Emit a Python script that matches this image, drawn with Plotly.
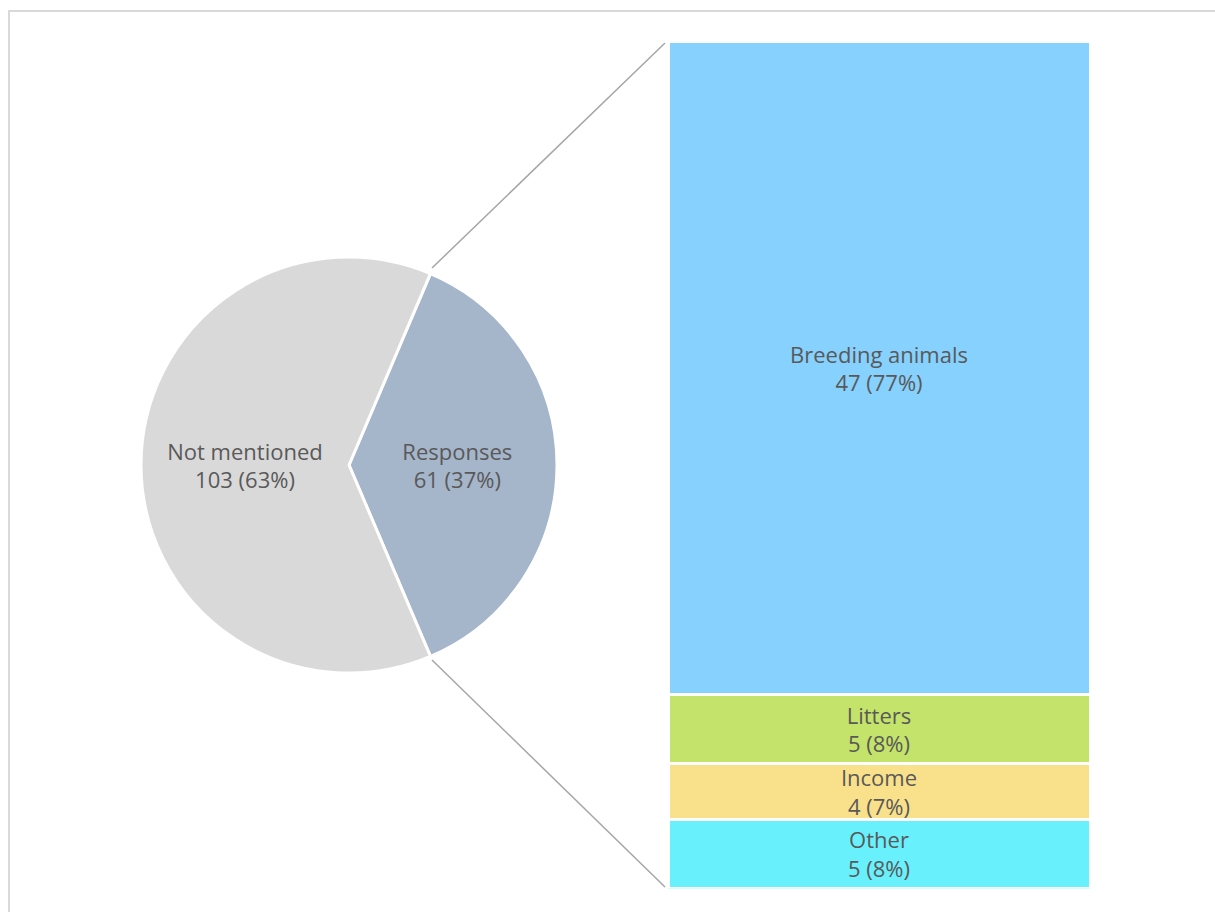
import plotly.graph_objects as go

# ---- data ----
pie_labels = ["Responses", "Not mentioned"]
pie_values = [61, 103]
pie_colors = ["#a5b5ca", "#d9d9d9"]

bar_labels = ["Other", "Income", "Litters", "Breeding animals"]   # bottom -> top
bar_values = [5, 4, 5, 47]
bar_colors = ["#68f1fd", "#f9e18b", "#c4e36a", "#86d1fe"]

W, H = 1215, 912
FONT = dict(family="Open Sans, Noto Sans, sans-serif", size=22, color="#595959")

def px(x):
    return x / W

def py(y):
    return 1 - y / H

total_resp = sum(bar_values)
fig = go.Figure()

# pie
cx, cy, r = 349, 465, 208
rotation = 90 - 360 * pie_values[0] / sum(pie_values) / 2
fig.add_trace(go.Pie(
    labels=pie_labels, values=pie_values, sort=False, direction="clockwise",
    rotation=rotation,
    marker=dict(colors=pie_colors, line=dict(color="white", width=3)),
    texttemplate="%{label}<br>%{value} (%{percent:.0%})",
    textposition="inside", insidetextorientation="horizontal",
    textfont=FONT, showlegend=False, hoverinfo="skip",
    domain=dict(x=[px(cx - r), px(cx + r)], y=[py(cy + r), py(cy - r)]),
))

# stacked bar
for lab, val, col in zip(bar_labels, bar_values, bar_colors):
    pct = round(100 * val / total_resp)
    fig.add_trace(go.Bar(
        x=["Responses"], y=[val], name=lab,
        marker=dict(color=col, line=dict(color="white", width=3)),
        text=[f"{lab}<br>{val} ({pct}%)"], textposition="inside",
        insidetextanchor="middle", constraintext="none", textangle=0,
        textfont=FONT, showlegend=False, hoverinfo="skip",
    ))

bx0, bx1, by0, by1 = 668, 1090, 41.5, 888.5
fig.update_layout(
    width=W, height=H, margin=dict(l=0, r=0, t=0, b=0),
    barmode="stack", bargap=0,
    paper_bgcolor="white", plot_bgcolor="rgba(0,0,0,0)",
    xaxis=dict(domain=[px(bx0), px(bx1)], visible=False, fixedrange=True),
    yaxis=dict(domain=[py(by1), py(by0)], range=[0, total_resp], visible=False, fixedrange=True),
    font=FONT,
)

# connector lines and outer frame
line_col = "#a6a6a6"
fig.add_shape(type="line", xref="paper", yref="paper",
              x0=px(432), y0=py(268), x1=px(665), y1=py(43),
              line=dict(color=line_col, width=1.5))
fig.add_shape(type="line", xref="paper", yref="paper",
              x0=px(432), y0=py(660), x1=px(665), y1=py(887),
              line=dict(color=line_col, width=1.5))
fig.add_shape(type="rect", xref="paper", yref="paper",
              x0=px(9), y0=py(11), x1=1.05, y1=-0.05,
              line=dict(color="#d9d9d9", width=2), fillcolor="rgba(0,0,0,0)", layer="below")

fig.write_html("out.html", config={"displayModeBar": False, "staticPlot": True},
               post_script="document.body.style.margin='0';document.body.style.overflow='hidden';")
